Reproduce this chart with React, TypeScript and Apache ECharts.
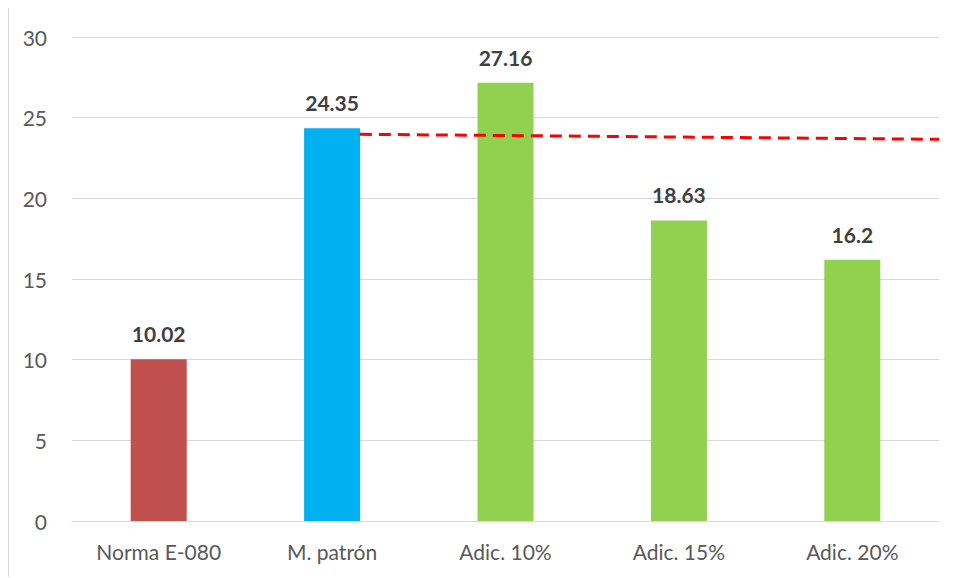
import React, { useEffect, useRef } from "react";
import * as echarts from "echarts";

const categories = ["Norma E-080", "M. patrón", "Adic. 10%", "Adic. 15%", "Adic. 20%"];
const values = [10.02, 24.35, 27.16, 18.63, 16.2];
const barColors = ["#C0504D", "#00B0F0", "#92D050", "#92D050", "#92D050"];
const yTicks = { min: 0, max: 30, interval: 5 };
// reference line: x in category units (0..5), y in value units
const refLineX = [1.66, 5.0];
const refLineY = [23.97, 23.66];

export default function App() {
  const ref = useRef<HTMLDivElement>(null);
  useEffect(() => {
    if (!ref.current) return;
    const chart = echarts.init(ref.current, undefined, { renderer: "svg" });
    const font = "Lato, 'Open Sans', sans-serif";
    chart.setOption({
      animation: false,
      grid: { left: 63, right: 19, top: 29, bottom: 56 },
      xAxis: [
        {
          type: "category",
          data: categories,
          axisLine: { lineStyle: { color: "#d9d9d9", width: 1 } },
          axisTick: { show: false },
          axisLabel: { color: "#595959", fontSize: 21, fontFamily: font, margin: 20 },
        },
        {
          type: "value",
          min: 0,
          max: categories.length,
          show: false,
        },
      ],
      yAxis: {
        type: "value",
        min: yTicks.min,
        max: yTicks.max,
        interval: yTicks.interval,
        axisLine: { show: false },
        axisTick: { show: false },
        splitLine: { lineStyle: { color: "#d9d9d9", width: 1 } },
        axisLabel: { color: "#595959", fontSize: 21, fontFamily: font, margin: 25 },
      },
      series: [
        {
          type: "bar",
          xAxisIndex: 0,
          barWidth: 56,
          data: values.map((v, i) => ({ value: v, itemStyle: { color: barColors[i] } })),
          label: {
            show: true,
            position: "top",
            distance: 15,
            color: "#404040",
            fontSize: 21,
            fontWeight: "bold",
            fontFamily: font,
          },
        },
        {
          type: "line",
          xAxisIndex: 1,
          data: refLineX.map((x, i) => [x, refLineY[i]]),
          symbol: "none",
          lineStyle: { color: "#FF0000", width: 3, type: [12, 7] },
          z: 5,
        },
      ],
    });
    return () => chart.dispose();
  }, []);
  return (
    <div
      style={{
        width: 950,
        height: 570,
        marginTop: -1,
        borderTop: "1px solid #d9d9d9",
        borderLeft: "1px solid #d9d9d9",
        boxSizing: "border-box",
      }}
    >
      <div ref={ref} style={{ width: 949, height: 569 }} />
    </div>
  );
}
